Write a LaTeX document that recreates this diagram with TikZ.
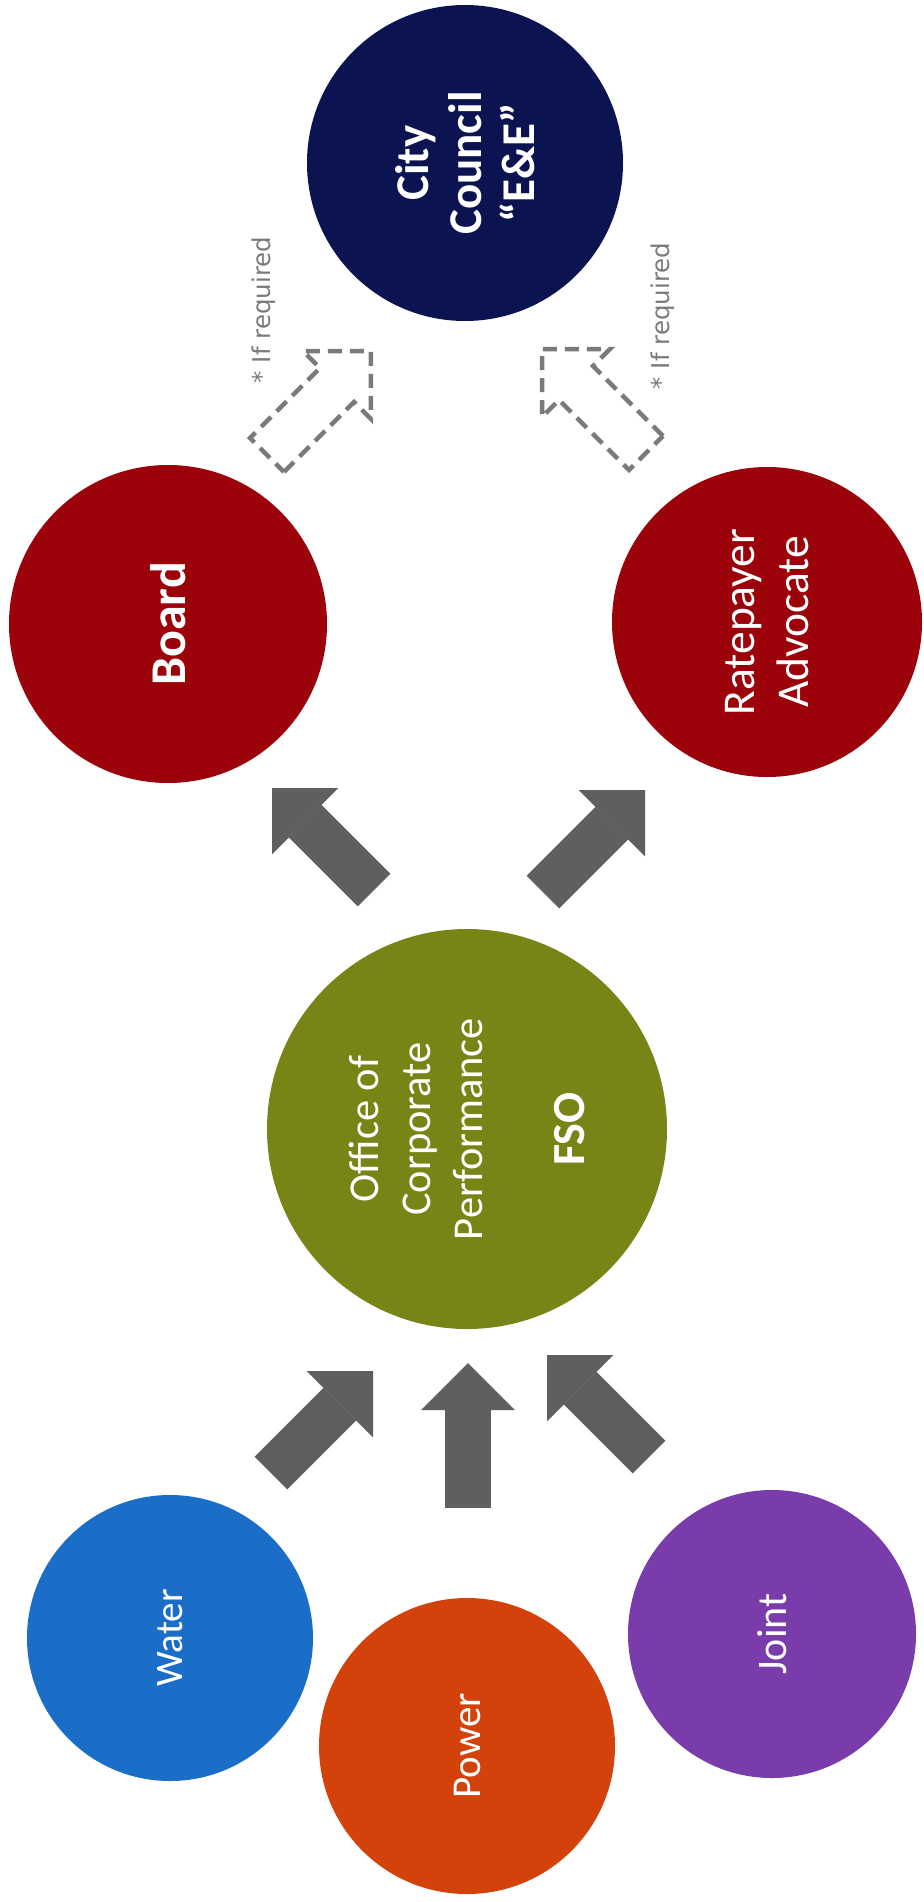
\documentclass[tikz,border=0pt]{standalone}
\usepackage{fontspec}
\setmainfont{Carlito}
\newfontfamily\notefont{DejaVu Sans}
\usetikzlibrary{arrows.meta}
\definecolor{councilblue}{RGB}{11,20,80}
\definecolor{boardred}{RGB}{156,2,10}
\definecolor{ocpgreen}{RGB}{120,133,22}
\definecolor{waterblue}{RGB}{26,110,200}
\definecolor{powerred}{RGB}{210,66,10}
\definecolor{jointpurple}{RGB}{122,60,170}
\definecolor{flowgray}{RGB}{95,95,95}
\definecolor{maybegray}{RGB}{122,122,122}

\begin{document}
\begin{tikzpicture}[x=1pt,y=-1pt,
  blob/.style={circle,inner sep=0pt,text=white,rotate=90,align=center},
  flow/.style={draw=flowgray,line width=46pt,-{Triangle[length=47pt,width=94pt,line width=0pt]}},
  maybe/.style={draw=maybegray,line width=4.5pt,dash pattern=on 14pt off 8pt}]
\useasboundingbox (0,0) rectangle (923,1902);
\fill[white] (0,0) rectangle (923,1902);
% circles
\node[blob,fill=councilblue,minimum size=316pt,font=\bfseries\fontsize{47}{53}\selectfont] (council) at (465,163) {City\\Council\\“E\&E”};
\node[blob,fill=boardred,minimum size=318pt,font=\bfseries\fontsize{50}{54}\selectfont] (board) at (168,624) {Board};
\node[blob,fill=boardred,minimum size=310pt,font=\fontsize{45.5}{54}\selectfont] (advocate) at (767,622) {Ratepayer\\Advocate};
\node[blob,fill=ocpgreen,minimum size=400pt,font=\fontsize{42.5}{52}\selectfont] (ocp) at (467,1129) {Office of\\Corporate\\Performance\\[50pt]{\bfseries\fontsize{46}{52}\selectfont FSO}};
\node[blob,fill=waterblue,minimum size=286pt,font=\fontsize{39}{46}\selectfont] (water) at (170,1638) {Water};
\node[blob,fill=powerred,minimum size=296pt,font=\fontsize{41}{46}\selectfont] (power) at (467,1746) {Power};
\node[blob,fill=jointpurple,minimum size=288pt,font=\fontsize{42}{46}\selectfont] (joint) at (772,1634) {Joint};
% solid arrows
\coordinate (ob0) at (374,890);
\coordinate (ob1) at (272,788);
\coordinate (oa0) at (543,892);
\coordinate (oa1) at (645,790);
\coordinate (wo0) at (271,1473);
\coordinate (wo1) at (373,1371);
\coordinate (po0) at (468,1508);
\coordinate (po1) at (468,1363);
\coordinate (jo0) at (649,1457);
\coordinate (jo1) at (547,1355);
\draw[flow] (ob0) -- (ob1);
\draw[flow] (oa0) -- (oa1);
\draw[flow] (wo0) -- (wo1);
\draw[flow] (po0) -- (po1);
\draw[flow] (jo0) -- (jo1);
% dashed arrows
\coordinate (bc0) at (267,455);
\coordinate (ac0) at (646,453);
\begin{scope}[shift={(bc0)},rotate=45]
\draw[maybe] (0,24) -- (99,24) -- (99,48) -- (147,0) -- (99,-48) -- (99,-24) -- (0,-24) -- cycle;
\end{scope}
\begin{scope}[shift={(ac0)},rotate=135]
\draw[maybe] (0,24) -- (99,24) -- (99,48) -- (147,0) -- (99,-48) -- (99,-24) -- (0,-24) -- cycle;
\end{scope}
\node[font=\notefont\fontsize{24.5}{28}\selectfont,text=maybegray,rotate=90] (req1) at (264,310) {* If required};
\node[font=\notefont\fontsize{24.5}{28}\selectfont,text=maybegray,rotate=90] (req2) at (663,316) {* If required};
\end{tikzpicture}
\end{document}
